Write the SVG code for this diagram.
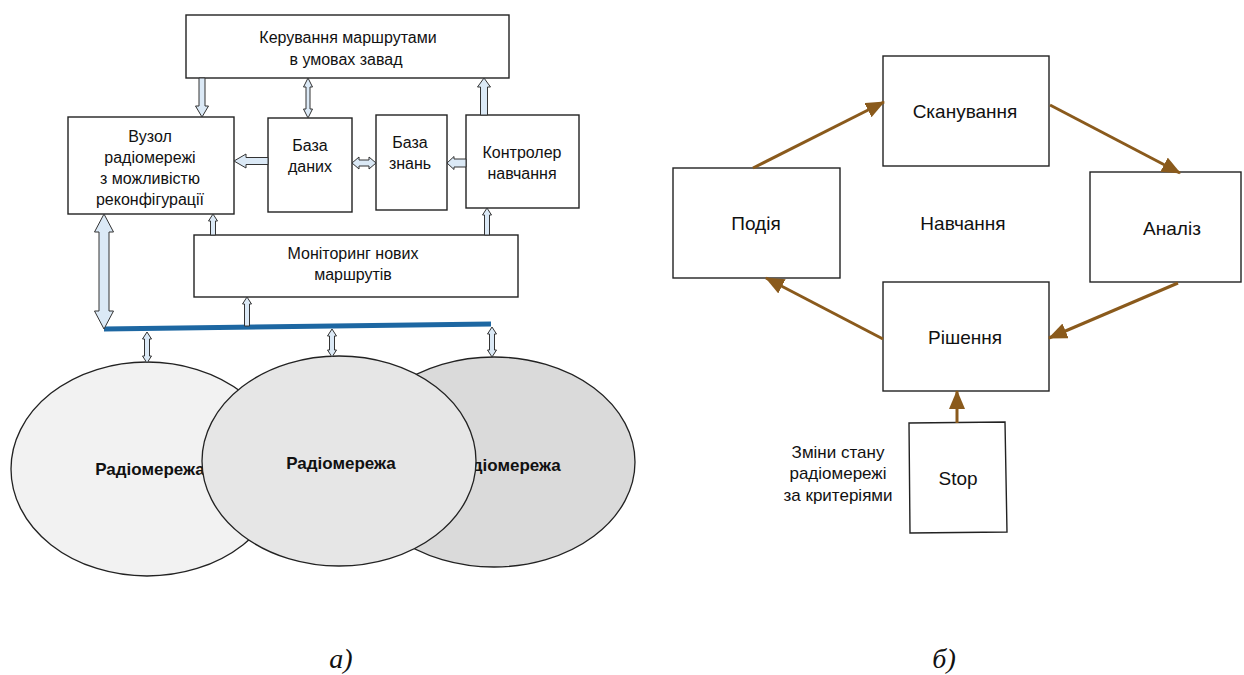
<svg xmlns="http://www.w3.org/2000/svg" width="1244" height="675" viewBox="0 0 1244 675">
<style>
.box{fill:#fff;stroke:#222;stroke-width:1.4}
.t{font-family:"Liberation Sans",Arial,sans-serif;font-size:16px;fill:#111;text-anchor:middle}
.tr{font-family:"Liberation Sans",Arial,sans-serif;font-size:19px;fill:#111;text-anchor:middle}
.tb{font-family:"Liberation Sans",Arial,sans-serif;font-size:17px;font-weight:bold;fill:#111;text-anchor:middle}
.tl{font-family:"Liberation Sans",Arial,sans-serif;font-size:17px;fill:#111;text-anchor:middle}
.cap{font-family:"Liberation Serif","Times New Roman",serif;font-size:28px;font-style:italic;fill:#111;text-anchor:middle}
.ba{fill:#dbe9f6;stroke:#333;stroke-width:1}
.br{stroke:#8a5a1c;stroke-width:3;fill:none}
.ell{stroke:#222;stroke-width:1.3}
</style>
<defs>
<marker id="ah" markerUnits="userSpaceOnUse" markerWidth="19" markerHeight="16" refX="18" refY="8" orient="auto">
<path d="M0,0 L19,8 L0,16 Z" fill="#8a5a1c"/>
</marker>
</defs>

<!-- Left diagram nodes -->
<g id="ellipse-left">
<ellipse class="ell" cx="147" cy="469" rx="136" ry="107" fill="#f2f2f2"/>
<text class="tb" x="150" y="475">Радіомережа</text>
</g>
<g id="ellipse-right">
<ellipse class="ell" cx="494" cy="462" rx="141" ry="105" fill="#dadada"/>
<text class="tb" x="506" y="471">Радіомережа</text>
</g>
<g id="ellipse-middle">
<ellipse class="ell" cx="339" cy="461" rx="137" ry="105" fill="#e6e6e6"/>
<text class="tb" x="341" y="469">Радіомережа</text>
</g>

<g id="node-control">
<rect class="box" x="186" y="15" width="323" height="63"/>
<text class="t" x="348" y="43">Керування маршрутами</text>
<text class="t" x="346" y="65">в умовах завад</text>
</g>
<g id="node-vuzol">
<rect class="box" x="68" y="117" width="166" height="97"/>
<text class="t" x="150" y="142">Вузол</text>
<text class="t" x="150" y="163">радіомережі</text>
<text class="t" x="150" y="184">з можливістю</text>
<text class="t" x="150" y="205">реконфігурації</text>
</g>
<g id="node-bd">
<rect class="box" x="268" y="118" width="84" height="94"/>
<text class="t" x="310" y="151">База</text>
<text class="t" x="310" y="172">даних</text>
</g>
<g id="node-bz">
<rect class="box" x="376" y="115" width="71" height="95"/>
<text class="t" x="410" y="148">База</text>
<text class="t" x="410" y="169">знань</text>
</g>
<g id="node-ctrl">
<rect class="box" x="466" y="115" width="113" height="93"/>
<text class="t" x="522" y="158">Контролер</text>
<text class="t" x="522" y="179">навчання</text>
</g>
<g id="node-monitor">
<rect class="box" x="194" y="235" width="324" height="62"/>
<text class="t" x="353" y="259">Моніторинг нових</text>
<text class="t" x="353" y="280">маршрутів</text>
</g>

<!-- Left diagram connectors -->
<g id="connectors-left">
<line x1="104" y1="329" x2="491" y2="324" stroke="#1d67a2" stroke-width="5"/>
<polygon class="ba" points="199,78 205,78 205,106 208.5,106 202,117 195.5,106 199,106"/>
<polygon class="ba" points="308,78 312.5,87 310,87 310,109 312.5,109 308,118 303.5,109 306,109 306,87 303.5,87"/>
<polygon class="ba" points="484,78 490.5,87 487.5,87 487.5,115 480.5,115 480.5,87 477.5,87"/>
<polygon class="ba" points="234,161 246,154 246,157.5 268,157.5 268,164.5 246,164.5 246,168"/>
<polygon class="ba" points="352,163 359,157 359,160 369,160 369,157 376,163 369,169 369,166 359,166 359,169"/>
<polygon class="ba" points="447,163 454,156.5 454,159 466,159 466,167 454,167 454,169.5"/>
<polygon class="ba" points="213,214 217.5,221 215.5,221 215.5,235 210.5,235 210.5,221 208.5,221"/>
<polygon class="ba" points="487,208 491.5,215 489.5,215 489.5,235 484.5,235 484.5,215 482.5,215"/>
<polygon class="ba" points="247,297 251.5,304 249.5,304 249.5,326 244.5,326 244.5,304 242.5,304"/>
<polygon class="ba" points="104,214 113.5,232 109,232 109,311 113.5,311 104,329 94.5,311 99,311 99,232 94.5,232"/>
<polygon class="ba" points="147,332 151.5,339 149.5,339 149.5,356 151.5,356 147,363 142.5,356 144.5,356 144.5,339 142.5,339"/>
<polygon class="ba" points="332,329 336.5,336 334.5,336 334.5,350 336.5,350 332,357 327.5,350 329.5,350 329.5,336 327.5,336"/>
<polygon class="ba" points="492,327 496.5,334 494.5,334 494.5,350 496.5,350 492,357 487.5,350 489.5,350 489.5,334 487.5,334"/>
</g>

<!-- Right diagram nodes -->
<g id="node-scan">
<rect class="box" x="883" y="56" width="166" height="110"/>
<text class="tr" x="965" y="118">Сканування</text>
</g>
<g id="node-event">
<rect class="box" x="673" y="168" width="167" height="110"/>
<text class="tr" x="756" y="230">Подія</text>
</g>
<g id="label-learning">
<text class="tr" x="963" y="230">Навчання</text>
</g>
<g id="node-analysis">
<rect class="box" x="1090" y="172" width="151" height="110"/>
<text class="tr" x="1172" y="235">Аналіз</text>
</g>
<g id="node-decision">
<rect class="box" x="883" y="282" width="166" height="109"/>
<text class="tr" x="965" y="344">Рішення</text>
</g>
<g id="node-stop">
<polygon class="box" points="909,423 1005,422 1007,532 910,533"/>
<text class="tr" x="958" y="485">Stop</text>
</g>
<g id="label-changes">
<text class="tl" x="838" y="458">Зміни стану</text>
<text class="tl" x="838" y="479">радіомережі</text>
<text class="tl" x="838" y="501">за критеріями</text>
</g>

<!-- Right diagram connectors -->
<g id="connectors-right">
<line class="br" x1="753" y1="168" x2="884" y2="102" marker-end="url(#ah)"/>
<line class="br" x1="1050" y1="105" x2="1180" y2="173" marker-end="url(#ah)"/>
<line class="br" x1="1178" y1="283" x2="1049" y2="338" marker-end="url(#ah)"/>
<line class="br" x1="883" y1="339" x2="766" y2="278" marker-end="url(#ah)"/>
<line class="br" x1="957" y1="423" x2="957" y2="391" marker-end="url(#ah)"/>
</g>

<text class="cap" x="341" y="668">а)</text>
<text class="cap" x="944" y="668">б)</text>
</svg>
